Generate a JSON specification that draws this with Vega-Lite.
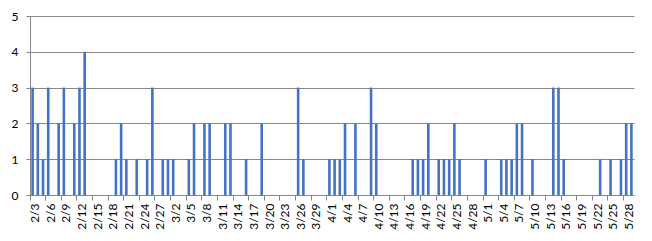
{
  "$schema": "https://vega.github.io/schema/vega-lite/v6.json",
  "width": 604,
  "height": 179,
  "autosize": "none",
  "padding": {"left": 30, "top": 16, "right": 18, "bottom": 46},
  "background": "white",
  "config": {"view": {"stroke": null}, "font": "Lato"},
  "data": {"values": [
    {"d":"2/3","v":3},{"d":"2/4","v":2},{"d":"2/5","v":1},{"d":"2/6","v":3},{"d":"2/7","v":0},{"d":"2/8","v":2},{"d":"2/9","v":3},{"d":"2/10","v":0},{"d":"2/11","v":2},{"d":"2/12","v":3},{"d":"2/13","v":4},{"d":"2/14","v":0},{"d":"2/15","v":0},{"d":"2/16","v":0},{"d":"2/17","v":0},{"d":"2/18","v":0},{"d":"2/19","v":1},{"d":"2/20","v":2},{"d":"2/21","v":1},{"d":"2/22","v":0},{"d":"2/23","v":1},{"d":"2/24","v":0},{"d":"2/25","v":1},{"d":"2/26","v":3},{"d":"2/27","v":0},{"d":"2/28","v":1},
    {"d":"3/1","v":1},{"d":"3/2","v":1},{"d":"3/3","v":0},{"d":"3/4","v":0},{"d":"3/5","v":1},{"d":"3/6","v":2},{"d":"3/7","v":0},{"d":"3/8","v":2},{"d":"3/9","v":2},{"d":"3/10","v":0},{"d":"3/11","v":0},{"d":"3/12","v":2},{"d":"3/13","v":2},{"d":"3/14","v":0},{"d":"3/15","v":0},{"d":"3/16","v":1},{"d":"3/17","v":0},{"d":"3/18","v":0},{"d":"3/19","v":2},{"d":"3/20","v":0},{"d":"3/21","v":0},{"d":"3/22","v":0},{"d":"3/23","v":0},{"d":"3/24","v":0},{"d":"3/25","v":0},{"d":"3/26","v":3},{"d":"3/27","v":1},{"d":"3/28","v":0},{"d":"3/29","v":0},{"d":"3/30","v":0},{"d":"3/31","v":0},
    {"d":"4/1","v":1},{"d":"4/2","v":1},{"d":"4/3","v":1},{"d":"4/4","v":2},{"d":"4/5","v":0},{"d":"4/6","v":2},{"d":"4/7","v":0},{"d":"4/8","v":0},{"d":"4/9","v":3},{"d":"4/10","v":2},{"d":"4/11","v":0},{"d":"4/12","v":0},{"d":"4/13","v":0},{"d":"4/14","v":0},{"d":"4/15","v":0},{"d":"4/16","v":0},{"d":"4/17","v":1},{"d":"4/18","v":1},{"d":"4/19","v":1},{"d":"4/20","v":2},{"d":"4/21","v":0},{"d":"4/22","v":1},{"d":"4/23","v":1},{"d":"4/24","v":1},{"d":"4/25","v":2},{"d":"4/26","v":1},{"d":"4/27","v":0},{"d":"4/28","v":0},{"d":"4/29","v":0},{"d":"4/30","v":0},
    {"d":"5/1","v":1},{"d":"5/2","v":0},{"d":"5/3","v":0},{"d":"5/4","v":1},{"d":"5/5","v":1},{"d":"5/6","v":1},{"d":"5/7","v":2},{"d":"5/8","v":2},{"d":"5/9","v":0},{"d":"5/10","v":1},{"d":"5/11","v":0},{"d":"5/12","v":0},{"d":"5/13","v":0},{"d":"5/14","v":3},{"d":"5/15","v":3},{"d":"5/16","v":1},{"d":"5/17","v":0},{"d":"5/18","v":0},{"d":"5/19","v":0},{"d":"5/20","v":0},{"d":"5/21","v":0},{"d":"5/22","v":0},{"d":"5/23","v":1},{"d":"5/24","v":0},{"d":"5/25","v":1},{"d":"5/26","v":0},{"d":"5/27","v":1},{"d":"5/28","v":2},{"d":"5/29","v":2}
  ]},
  "mark": {"type": "bar", "color": "#4472C4"},
  "encoding": {
    "x": {
      "field": "d", "type": "ordinal", "sort": null,
      "scale": {"paddingInner": 0.5, "paddingOuter": 0.25},
      "axis": {
        "title": null,
        "values": ["2/3","2/6","2/9","2/12","2/15","2/18","2/21","2/24","2/27","3/2","3/5","3/8","3/11","3/14","3/17","3/20","3/23","3/26","3/29","4/1","4/4","4/7","4/10","4/13","4/16","4/19","4/22","4/25","4/28","5/1","5/4","5/7","5/10","5/13","5/16","5/19","5/22","5/25","5/28"],
        "labelAngle": -90,
        "labelAlign": "right",
        "labelBaseline": "middle",
        "labelFontSize": 12,
        "labelColor": "#000000",
        "labelPadding": 3,
        "bandPosition": -0.5,
        "labelOffset": 2.6,
        "tickSize": 5,
        "tickColor": "#868686",
        "domainColor": "#868686",
        "labelOverlap": false,
        "labelBound": false
      }
    },
    "y": {
      "field": "v", "type": "quantitative",
      "scale": {"domain": [0, 5], "nice": false},
      "axis": {
        "title": null,
        "values": [0, 1, 2, 3, 4, 5],
        "grid": true,
        "gridColor": "#868686",
        "gridOpacity": 1,
        "tickSize": 4,
        "tickColor": "#868686",
        "domainColor": "#868686",
        "labelFontSize": 12,
        "labelColor": "#000000",
        "labelPadding": 8
      }
    }
  }
}
